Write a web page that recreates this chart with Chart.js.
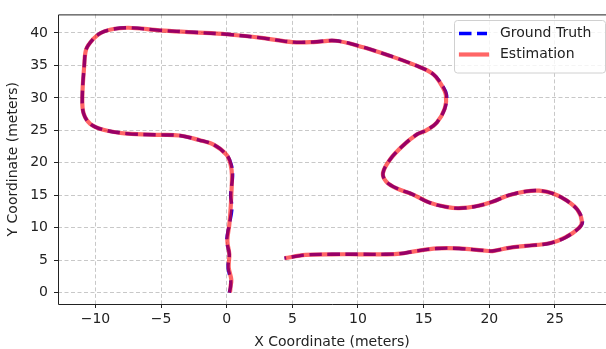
<!DOCTYPE html>
<html><head><meta charset="utf-8">
<script src="https://cdn.jsdelivr.net/npm/chart.js@4.4.0/dist/chart.umd.min.js"></script>
<style>html,body{margin:0;padding:0;background:#fff}#wrap{width:606px;height:349px;position:relative}</style>
</head><body><div id="wrap"><canvas id="c"></canvas></div>
<script>
// Ground truth trajectory (meters)
const gtX = [0.2, 0.3, 0.3, 0.1, 0.2, 0.0, 0.2, 0.4, 0.3, 0.45, 0.35, 0.0, -1.0, -2.1, -3.6, -5.1, -7.6, -9.4, -10.4, -10.9, -11.0, -10.85, -10.7, -10.2, -9.6, -8.9, -7.5, -5.1, -2.5, 0.0, 2.8, 5.0, 6.6, 8.3, 10.4, 12.4, 14.4, 15.7, 16.4, 16.75, 16.6, 16.0, 15.2, 14.5, 13.4, 12.4, 11.9, 12.15, 12.9, 14.2, 15.4, 16.7, 17.7, 19.0, 20.25, 21.5, 22.8, 23.8, 24.8, 25.8, 26.7, 27.1, 26.85, 25.8, 24.6, 22.8, 21.5, 20.25, 19.5, 17.7, 16.0, 14.4, 13.2, 12.1, 10.1, 8.0, 6.0, 4.4];
const gtY = [0.0, 1.0, 2.0, 3.9, 5.9, 8.0, 10.5, 13.0, 15.0, 18.0, 19.7, 21.2, 22.8, 23.5, 24.2, 24.3, 24.5, 25.1, 26.0, 27.6, 30.0, 35.0, 37.5, 39.0, 40.0, 40.5, 40.8, 40.4, 40.1, 39.8, 39.2, 38.6, 38.6, 38.8, 37.8, 36.5, 35.0, 33.7, 32.0, 30.4, 28.3, 26.2, 25.0, 24.4, 22.6, 20.4, 18.4, 17.1, 16.1, 15.1, 13.9, 13.2, 13.0, 13.3, 14.0, 15.0, 15.6, 15.7, 15.3, 14.3, 12.8, 11.0, 10.0, 8.5, 7.6, 7.2, 6.9, 6.4, 6.5, 6.8, 6.8, 6.4, 6.0, 5.9, 5.9, 5.9, 5.8, 5.3];
// Estimated trajectory (meters)
const estX = [0.25, 0.3, 0.35, 0.15, 0.2, 0.05, 0.2, 0.3, 0.35, 0.4, 0.3, 0.0, -1.0, -2.1, -3.6, -5.1, -7.6, -9.4, -10.4, -10.9, -11.0, -10.85, -10.7, -10.2, -9.6, -8.9, -7.5, -5.1, -2.5, 0.0, 2.8, 5.0, 6.6, 8.3, 10.4, 12.4, 14.4, 15.7, 16.35, 16.7, 16.6, 16.0, 15.2, 14.5, 13.4, 12.4, 11.9, 12.15, 12.9, 14.2, 15.4, 16.7, 17.7, 19.0, 20.25, 21.5, 22.8, 23.8, 24.8, 25.8, 26.7, 27.05, 26.85, 25.8, 24.6, 22.8, 21.5, 20.25, 19.5, 17.7, 16.0, 14.4, 13.2, 12.1, 10.1, 8.0, 6.0, 4.4];
const estY = [0.0, 1.0, 2.0, 3.9, 5.9, 8.0, 10.5, 13.0, 15.0, 18.0, 19.7, 21.2, 22.8, 23.5, 24.2, 24.3, 24.5, 25.1, 26.0, 27.6, 30.0, 35.0, 37.5, 39.0, 40.0, 40.5, 40.8, 40.4, 40.1, 39.8, 39.2, 38.6, 38.6, 38.8, 37.8, 36.5, 35.0, 33.7, 32.0, 30.4, 28.3, 26.2, 25.0, 24.4, 22.6, 20.4, 18.4, 17.1, 16.1, 15.1, 13.9, 13.2, 13.0, 13.3, 14.0, 15.0, 15.6, 15.7, 15.3, 14.3, 12.8, 11.0, 10.0, 8.5, 7.6, 7.2, 6.9, 6.4, 6.5, 6.8, 6.8, 6.4, 6.0, 5.9, 5.9, 5.9, 5.8, 5.3];
const xTicks = [-10, -5, 0, 5, 10, 15, 20, 25];
const yTicks = [0, 5, 10, 15, 20, 25, 30, 35, 40];
const seriesLabels = ['Ground Truth', 'Estimation'];
const xTitle = 'X Coordinate (meters)';
const yTitle = 'Y Coordinate (meters)';

const FONT = "'DejaVu Sans', sans-serif";
const TEXT = '#222';
const toPts = (xs, ys) => xs.map((x, i) => ({x: x, y: ys[i]}));
const fmt = v => String(v).replace('-', '\u2212');

const framePlugin = {
  id: 'frame',
  afterDatasetsDraw(chart) {
    const {ctx, chartArea: a} = chart;
    ctx.save();
    ctx.strokeStyle = '#222';
    ctx.lineWidth = 1;
    ctx.beginPath();
    ctx.moveTo(a.right + 2, a.top + 0.5);
    ctx.lineTo(a.left + 0.5, a.top + 0.5);
    ctx.lineTo(a.left + 0.5, a.bottom + 0.5);
    ctx.lineTo(a.right + 2, a.bottom + 0.5);
    ctx.stroke();
    ctx.restore();
  }
};

const legendPlugin = {
  id: 'innerLegend',
  afterDraw(chart) {
    const ctx = chart.ctx;
    const ds = chart.data.datasets;
    ctx.save();
    const bx = 454.5, by = 20.5, bw = 151, bh = 52.5, r = 3;
    ctx.beginPath();
    ctx.moveTo(bx + r, by);
    ctx.lineTo(bx + bw - r, by);
    ctx.arcTo(bx + bw, by, bx + bw, by + r, r);
    ctx.lineTo(bx + bw, by + bh - r);
    ctx.arcTo(bx + bw, by + bh, bx + bw - r, by + bh, r);
    ctx.lineTo(bx + r, by + bh);
    ctx.arcTo(bx, by + bh, bx, by + bh - r, r);
    ctx.lineTo(bx, by + r);
    ctx.arcTo(bx, by, bx + r, by, r);
    ctx.closePath();
    ctx.fillStyle = 'rgba(255,255,255,0.8)';
    ctx.fill();
    ctx.strokeStyle = '#d0d0d0';
    ctx.lineWidth = 1;
    ctx.stroke();
    const rows = [33.5, 54.5];
    const order = [1, 0];
    order.forEach((di, k) => {
      const d = ds[di];
      const y = rows[k];
      ctx.beginPath();
      ctx.strokeStyle = d.borderColor;
      ctx.lineWidth = d.borderWidth;
      ctx.setLineDash(d.borderDash || []);
      ctx.lineCap = d.borderDash ? 'butt' : 'square';
      if (d.borderDash) { ctx.moveTo(459, y); ctx.lineTo(487, y); }
      else { ctx.moveTo(461, y); ctx.lineTo(487, y); }
      ctx.stroke();
      ctx.setLineDash([]);
      ctx.fillStyle = TEXT;
      ctx.font = '14px ' + FONT;
      ctx.textBaseline = 'middle';
      ctx.textAlign = 'left';
      ctx.fillText(d.label, 500, y);
    });
    ctx.restore();
  }
};

new Chart(document.getElementById('c'), {
  type: 'scatter',
  data: {
    datasets: [
      {
        label: seriesLabels[1],
        data: toPts(estX, estY),
        showLine: true,
        borderColor: 'rgba(255,0,0,0.6)',
        borderWidth: 4.2,
        pointRadius: 0,
        tension: 0.35,
        borderJoinStyle: 'round',
        order: 1
      },
      {
        label: seriesLabels[0],
        data: toPts(gtX, gtY),
        showLine: true,
        borderColor: '#0000ff',
        borderWidth: 3.4,
        borderDash: [12.5, 5.5],
        pointRadius: 0,
        tension: 0.35,
        borderJoinStyle: 'round',
        order: 2
      }
    ]
  },
  options: {
    responsive: true,
    maintainAspectRatio: false,
    animation: false,
    layout: {padding: {top: 12, right: 0, left: 0, bottom: 0}},
    plugins: {legend: {display: false}, tooltip: {enabled: false}},
    scales: {
      x: {
        type: 'linear',
        min: -12.85, max: 28.89,
        afterBuildTicks: s => { s.ticks = xTicks.map(v => ({value: v})); },
        afterFit: s => { s.height = 45; },
        ticks: {callback: v => fmt(v), color: TEXT, font: {family: FONT, size: 14}, padding: 3, maxRotation: 0, autoSkip: false},
        grid: {color: 'rgba(176,176,176,0.7)', lineWidth: 1, tickLength: 4, tickColor: '#222', tickWidth: 1},
        border: {display: false, dash: [4, 2.5]},
        title: {display: true, text: xTitle, color: TEXT, font: {family: FONT, size: 14}, padding: {top: 0, bottom: -2}}
      },
      y: {
        type: 'linear',
        min: -1.757, max: 42.86,
        afterBuildTicks: s => { s.ticks = yTicks.map(v => ({value: v})); },
        afterFit: s => { s.width = 58; },
        ticks: {callback: v => fmt(v), color: TEXT, font: {family: FONT, size: 14}, padding: 6, autoSkip: false},
        grid: {color: 'rgba(176,176,176,0.7)', lineWidth: 1, tickLength: 4, tickColor: '#222', tickWidth: 1},
        border: {display: false, dash: [4, 2.5]},
        title: {display: true, text: yTitle, color: TEXT, font: {family: FONT, size: 14}, padding: {top: 5, bottom: 0}}
      }
    }
  },
  plugins: [framePlugin, legendPlugin]
});
</script>
</body></html>
